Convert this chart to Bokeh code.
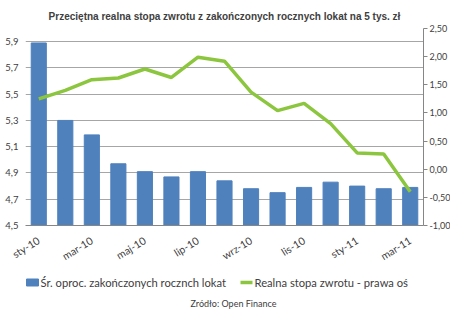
from bokeh.plotting import figure
from bokeh.models import Range1d, LinearAxis, FixedTicker, Title, Label
from bokeh.core.properties import value
from bokeh.layouts import column
from bokeh.embed import file_html
from bokeh.resources import INLINE

months = ["sty-10", "lut-10", "mar-10", "kwi-10", "maj-10", "cze-10", "lip-10", "sie-10",
          "wrz-10", "paź-10", "lis-10", "gru-10", "sty-11", "lut-11", "mar-11"]
avg_rate = [5.89, 5.30, 5.19, 4.97, 4.91, 4.87, 4.91, 4.84, 4.78, 4.75, 4.79, 4.83, 4.80, 4.78, 4.79]
real_return = [1.25, 1.40, 1.59, 1.62, 1.78, 1.63, 1.99, 1.92, 1.37, 1.04, 1.17, 0.81, 0.29, 0.27, -0.40]
left_ticks = [4.5, 4.7, 4.9, 5.1, 5.3, 5.5, 5.7, 5.9]
left_labels = ["4,5", "4,7", "4,9", "5,1", "5,3", "5,5", "5,7", "5,9"]
right_ticks = [-1.0, -0.5, 0.0, 0.5, 1.0, 1.5, 2.0, 2.5]
right_labels = ["-1,00", "-0,50", "0,00", "0,50", "1,00", "1,50", "2,00", "2,50"]
title_text = "Przeciętna realna stopa zwrotu z zakończonych rocznych lokat na 5 tys. zł"
bar_name = "Śr. oproc. zakończonych rocznch lokat"
line_name = "Realna stopa zwrotu - prawa oś"
source_text = "Zródło: Open Finance"

BAR_COLOR = "#4f81bd"
LINE_COLOR = "#8cc63e"
TEXT_COLOR = "#404040"

xs = list(range(len(months)))

p = figure(width=450, height=275, frame_width=398, frame_height=197,
           output_backend="svg", toolbar_location=None,
           x_range=Range1d(-0.5, len(months) - 0.5), y_range=Range1d(4.5, 6.0),
           min_border_left=25, min_border_right=27, min_border_top=28, min_border_bottom=50,
           background_fill_color="white", border_fill_color="white")
p.outline_line_color = None
p.extra_y_ranges = {"right": Range1d(-1.0, 2.5)}

bars = p.vbar(x=xs, top=avg_rate, bottom=4.5, width=0.57, color=BAR_COLOR)
line = p.line(x=xs, y=real_return, y_range_name="right", line_color=LINE_COLOR, line_width=3.5)

yax = p.yaxis[0]
yax.ticker = FixedTicker(ticks=left_ticks)
yax.major_label_overrides = {t: l for t, l in zip(left_ticks, left_labels)}
yax.axis_line_color = None
yax.major_tick_line_color = None
yax.major_tick_out = 0
yax.minor_tick_line_color = None
yax.major_label_text_font = "Lato"
yax.major_label_text_font_size = "9.5px"
yax.major_label_text_color = TEXT_COLOR
yax.major_label_standoff = 7

p.ygrid.ticker = FixedTicker(ticks=left_ticks)
p.ygrid.grid_line_color = "#a6a6a6"
p.xgrid.grid_line_color = None

rax = LinearAxis(y_range_name="right", ticker=FixedTicker(ticks=right_ticks))
rax.major_label_overrides = {t: l for t, l in zip(right_ticks, right_labels)}
rax.axis_line_color = "#868686"
rax.major_tick_line_color = "#868686"
rax.major_tick_out = 4
rax.major_tick_in = 0
rax.minor_tick_line_color = None
rax.major_label_text_font = "Lato"
rax.major_label_text_font_size = "9px"
rax.major_label_text_color = TEXT_COLOR
rax.major_label_standoff = 2
p.add_layout(rax, "right")

xax = p.xaxis[0]
xax.ticker = FixedTicker(ticks=xs[::2])
xax.major_label_overrides = {i: months[i] for i in xs[::2]}
xax.axis_line_color = "#868686"
xax.major_tick_line_color = None
xax.major_tick_out = 0
xax.minor_tick_line_color = None
xax.major_label_orientation = 0.55
xax.major_label_text_font = "Lato"
xax.major_label_text_font_size = "10.5px"
xax.major_label_text_color = TEXT_COLOR
xax.major_label_standoff = 14

p.add_layout(Title(text=title_text, align="center", text_font="Liberation Sans",
                   text_font_style="bold", text_font_size="10px", text_color=TEXT_COLOR,
                   standoff=14), "above")

# lower strip, frame aligned with the main frame; 1 data unit = 1 canvas pixel
p2 = figure(width=450, height=37, frame_width=398, frame_height=37,
            output_backend="svg", toolbar_location=None,
            x_range=Range1d(25, 423), y_range=Range1d(0, 37),
            x_axis_type=None, y_axis_type=None,
            min_border_left=25, min_border_right=27, min_border_top=0, min_border_bottom=0,
            background_fill_color="white", border_fill_color="white")
p2.outline_line_color = None
p2.grid.grid_line_color = None

LEG_Y = 30
p2.rect(x=[32], y=[LEG_Y], width=12, height=7, color=BAR_COLOR)
p2.line(x=[240, 252], y=[LEG_Y, LEG_Y], line_color=LINE_COLOR, line_width=3.5)
p2.text(x=[40, 254], y=[LEG_Y, LEG_Y], text=[bar_name, line_name],
        text_font=value("Lato"), text_font_size="11.2px", text_color=TEXT_COLOR,
        text_align="left", text_baseline="middle")
p2.add_layout(Label(x=233, y=9, text=source_text, text_align="center", text_baseline="middle",
                    text_font="Lato", text_font_size="9px", text_color=TEXT_COLOR))

layout = column(p, p2, spacing=0)
open("out.html", "w").write(file_html(layout, INLINE))
